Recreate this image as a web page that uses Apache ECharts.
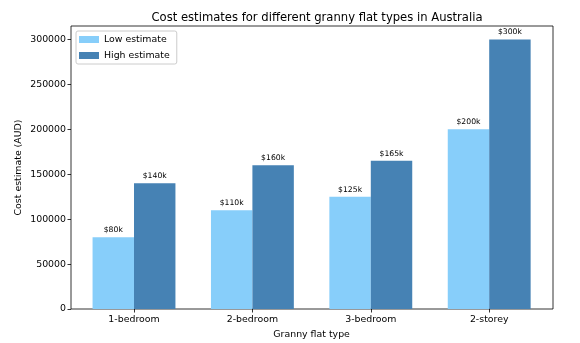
<!DOCTYPE html>
<html><head><meta charset="utf-8">
<script src="https://cdn.jsdelivr.net/npm/echarts@6/dist/echarts.min.js"></script>
<style>html,body{margin:0;padding:0;background:#fff}#c{width:580px;height:343px}</style>
</head><body><div id="c"></div>
<script>
const categories = ['1-bedroom', '2-bedroom', '3-bedroom', '2-storey'];
const lowEstimate = [80000, 110000, 125000, 200000];
const highEstimate = [140000, 160000, 165000, 300000];
const yTicks = [0, 50000, 100000, 150000, 200000, 250000, 300000];

const FONT = 'DejaVu Sans';
const chart = echarts.init(document.getElementById('c'), null, {renderer: 'canvas'});
const lbl = v => '$' + Math.round(v / 1000) + 'k';
chart.setOption({
  animation: false,
  textStyle: {fontFamily: FONT},
  title: {
    text: 'Cost estimates for different granny flat types in Australia',
    left: 312, top: 7, textAlign: 'center',
    textStyle: {fontFamily: FONT, fontSize: 11.6, fontWeight: 'normal', color: '#000'}
  },
  legend: {
    left: 76, top: 31, orient: 'vertical', itemWidth: 20, itemHeight: 7, itemGap: 7,
    padding: [4, 7, 4, 3],
    borderColor: '#ccc', borderWidth: 1, borderRadius: 2,
    icon: 'rect',
    textStyle: {fontFamily: FONT, fontSize: 9.4, color: '#000'},
    data: ['Low estimate', 'High estimate']
  },
  grid: [
    {left: 71, right: 27, top: 26, bottom: 34, show: true, borderColor: '#000', borderWidth: 0.8,
     backgroundColor: 'transparent', outerBoundsMode: 'none', containLabel: false},
    {left: 74.8, right: 31.6, top: 26, bottom: 34, outerBoundsMode: 'none', containLabel: false}
  ],
  xAxis: [
    {gridIndex: 0, type: 'value', min: 0, max: 1, show: false},
    {gridIndex: 1, type: 'category', data: categories,
     name: 'Granny flat type', nameLocation: 'middle', nameGap: 21, nameMoveOverlap: false,
     nameTextStyle: {fontFamily: FONT, fontSize: 9.4, color: '#000'},
     axisLine: {show: false},
     axisTick: {show: true, alignWithLabel: true, length: 3.5, lineStyle: {color: '#000', width: 0.8}},
     axisLabel: {fontFamily: FONT, fontSize: 9.4, color: '#000', margin: 6}}
  ],
  yAxis: [
    {gridIndex: 0, type: 'value', min: 0, max: 1, show: false},
    {gridIndex: 1, type: 'value', min: 0, max: 315000, interval: 50000, offset: 3.8,
     name: 'Cost estimate (AUD)', nameLocation: 'middle', nameGap: 48, nameRotate: 90,
     nameMoveOverlap: false,
     nameTextStyle: {fontFamily: FONT, fontSize: 9.4, color: '#000'},
     splitLine: {show: false},
     axisLine: {show: false},
     axisTick: {show: true, length: 3.5, lineStyle: {color: '#000', width: 0.8}},
     axisLabel: {fontFamily: FONT, fontSize: 9.4, color: '#000', margin: 5, showMaxLabel: false,
       formatter: v => yTicks.includes(v) ? String(v) : ''}}
  ],
  series: [
    {name: 'Low estimate', type: 'bar', xAxisIndex: 1, yAxisIndex: 1, data: lowEstimate,
     barWidth: '35%', barGap: '0%',
     itemStyle: {color: '#87CEFA'},
     label: {show: true, position: 'top', distance: 3, formatter: p => lbl(p.value),
       fontFamily: FONT, fontSize: 7.7, color: '#000'}},
    {name: 'High estimate', type: 'bar', xAxisIndex: 1, yAxisIndex: 1, data: highEstimate,
     barWidth: '35%', barGap: '0%',
     itemStyle: {color: '#4682B4'},
     label: {show: true, position: 'top', distance: 3, formatter: p => lbl(p.value),
       fontFamily: FONT, fontSize: 7.7, color: '#000'}}
  ]
});
</script></body></html>
